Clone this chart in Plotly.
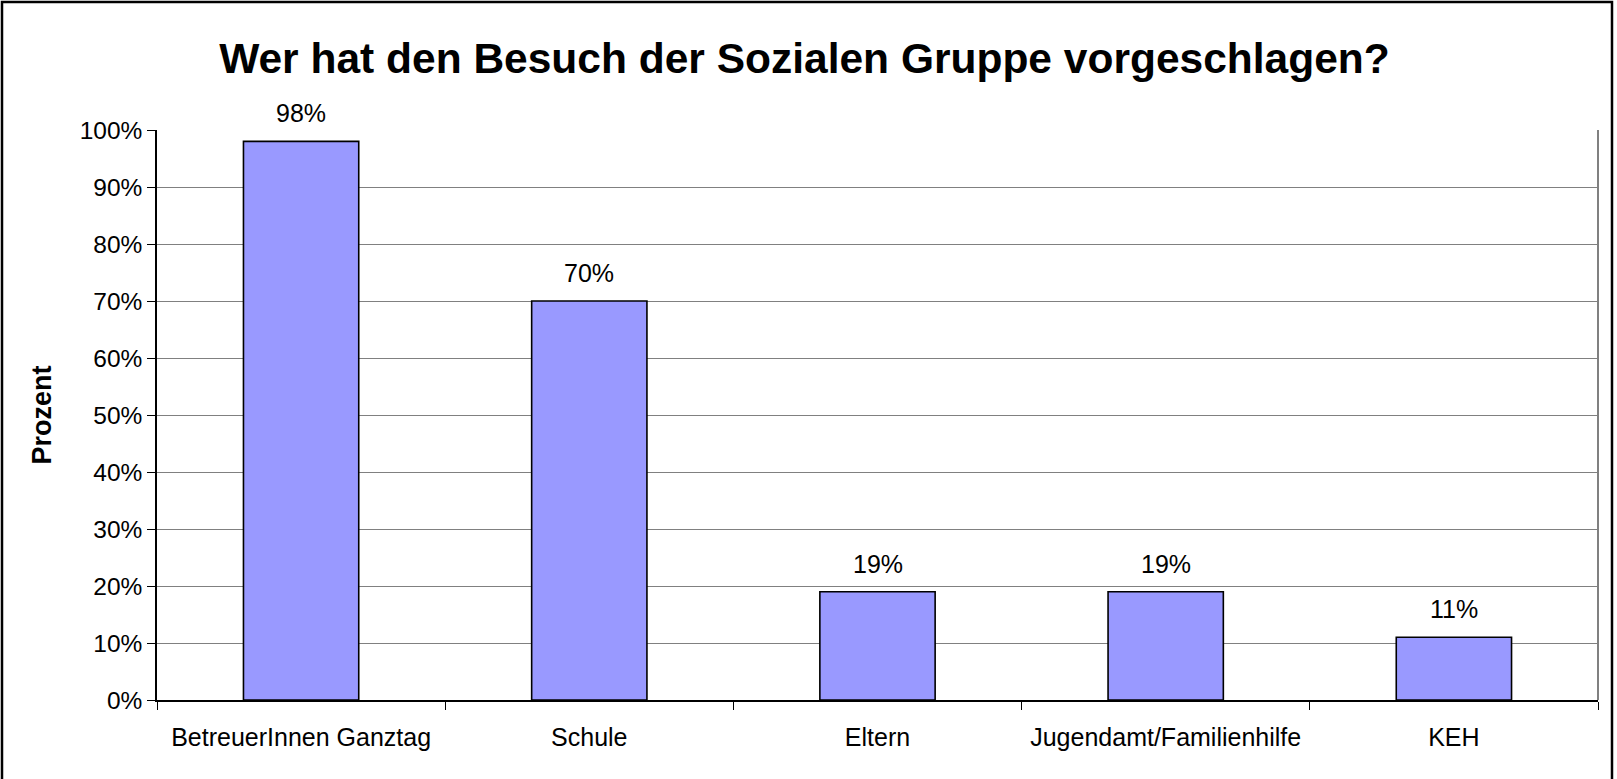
import plotly.graph_objects as go

categories = ["BetreuerInnen Ganztag", "Schule", "Eltern", "Jugendamt/Familienhilfe", "KEH"]
values = [98, 70, 19, 19, 11]
labels = ["98%", "70%", "19%", "19%", "11%"]

W, H = 1617, 779
L, R, T, B = 157, 19, 130, 79
pw, ph = W - L - R, H - T - B

fig = go.Figure()
fig.add_trace(go.Bar(
    x=categories, y=values,
    marker=dict(color="#9999FF", line=dict(color="black", width=1.6)),
    hoverinfo="x+y",
))

for c, v, t in zip(categories, values, labels):
    fig.add_annotation(x=c, y=v, text=t, showarrow=False, yanchor="bottom",
                       yshift=12, font=dict(family="Liberation Sans, Arial", size=25, color="black"))

fig.update_layout(
    width=W, height=H,
    margin=dict(l=L, r=R, t=T, b=B, autoexpand=False),
    paper_bgcolor="white", plot_bgcolor="white",
    showlegend=False,
    bargap=0.6,
    title=dict(text="<b>Wer hat den Besuch der Sozialen Gruppe vorgeschlagen?</b>",
               x=0.4975, xanchor="center", y=1 - 58 / H, yanchor="middle",
               font=dict(family="Liberation Sans, Arial", size=42.5, color="black")),
    font=dict(family="Liberation Sans, Arial", size=25, color="black"),
)

fig.update_xaxes(
    type="category", automargin=False,
    showline=True, linecolor="black", linewidth=1.5,
    ticks="outside", tickson="boundaries", ticklen=8, tickcolor="black", tickwidth=1,
    ticklabelstandoff=14,
    showgrid=False,
    tickfont=dict(size=25),
)
fig.update_yaxes(
    range=[0, 100], dtick=10, ticksuffix="%", automargin=False,
    showline=True, linecolor="black", linewidth=1.5,
    ticks="outside", ticklen=8, tickcolor="black",
    showgrid=True, gridcolor="#808080", gridwidth=1,
    zeroline=False,
    tickfont=dict(size=24.5),
    title=dict(text="<b>Prozent</b>", font=dict(family="Liberation Sans, Arial", size=27), standoff=20),
)

# right plot border (gray)
fig.add_shape(type="line", xref="paper", yref="paper", x0=1, x1=1, y0=0, y1=1,
              line=dict(color="#808080", width=2))
# outer chart frame
fig.add_shape(type="rect", xref="paper", yref="paper",
              x0=(2 - L) / pw, x1=(1612 - L) / pw,
              y0=-(B + 5) / ph, y1=1 + (T - 2) / ph,
              line=dict(color="black", width=2.5), fillcolor="rgba(0,0,0,0)", layer="below")

fig.write_html("out.html", config={"displayModeBar": False},
               post_script="document.body.style.margin='0';")
